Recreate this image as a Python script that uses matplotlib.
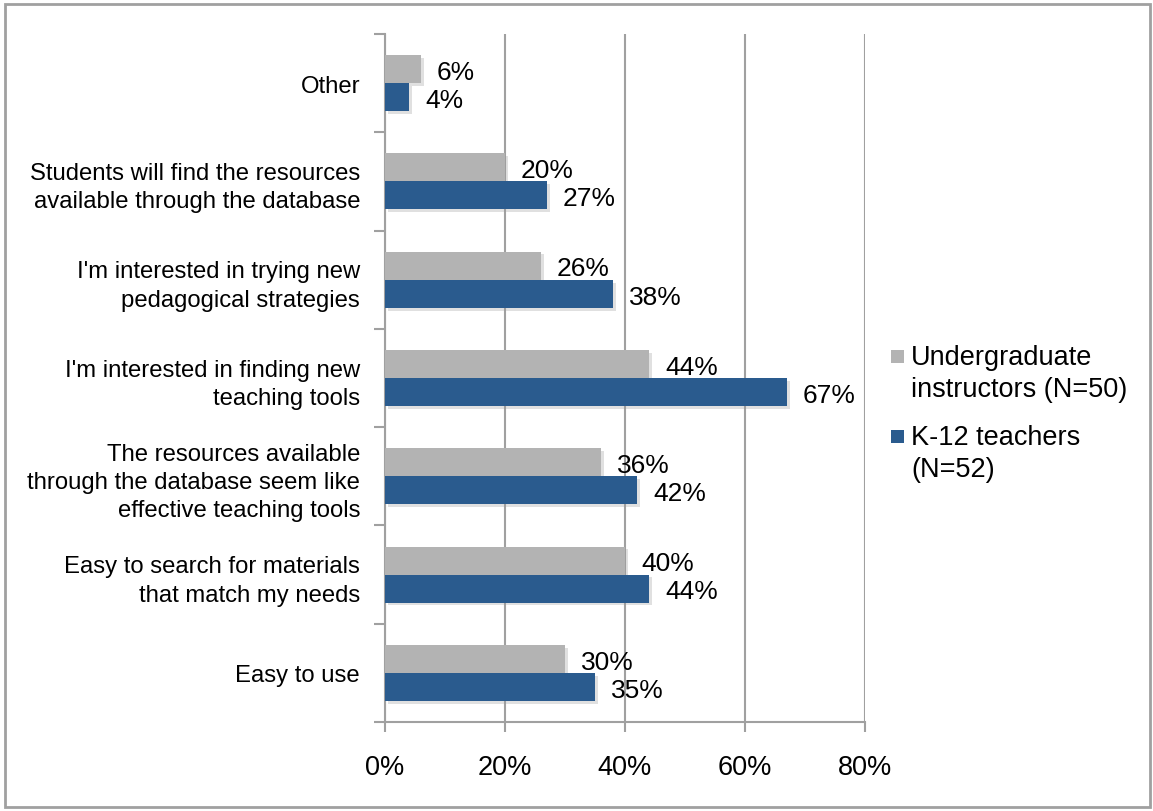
import numpy as np
import matplotlib.pyplot as plt
import matplotlib.patheffects as pe
from matplotlib.patches import Rectangle
from matplotlib.ticker import FuncFormatter

plt.rcParams['font.family'] = ['Liberation Sans', 'DejaVu Sans']

# Reasons for using the database, bottom to top
categories = [
    "Easy to use",
    "Easy to search for materials\nthat match my needs",
    "The resources available\nthrough the database seem like\neffective teaching tools",
    "I'm interested in finding new\nteaching tools",
    "I'm interested in trying new\npedagogical strategies",
    "Students will find the resources\navailable through the database",
    "Other",
]
undergrad = [30, 40, 36, 44, 26, 20, 6]
k12 = [35, 44, 42, 67, 38, 27, 4]
series_names = ["Undergraduate\ninstructors (N=50)", "K-12 teachers\n(N=52)"]
colors = ["#b3b3b3", "#2a5b8e"]

W, H = 1153, 812
fig = plt.figure(figsize=(W / 100, H / 100), dpi=100)
ax = fig.add_axes([385 / W, 1 - 723 / H, 480 / W, 688 / H])

y = np.arange(len(categories))
off = 0.143
bh = 0.285
shadow = [pe.SimplePatchShadow(offset=(2, -2), shadow_rgbFace="#9a9a9a", alpha=0.3), pe.Normal()]

bars_u = ax.barh(y + off, undergrad, height=bh, color=colors[0], zorder=3)
bars_k = ax.barh(y - off, k12, height=bh, color=colors[1], zorder=3)
for b in list(bars_u) + list(bars_k):
    b.set_path_effects(shadow)

for yi, v in zip(y + off, undergrad):
    ax.annotate(f"{v}%", (v, yi), xytext=(11.5, -2), textcoords="offset points",
                va="center", ha="left", fontsize=19, zorder=4)
for yi, v in zip(y - off, k12):
    ax.annotate(f"{v}%", (v, yi), xytext=(11.5, -2), textcoords="offset points",
                va="center", ha="left", fontsize=19, zorder=4)

ax.set_xlim(0, 80)
ax.set_ylim(-0.5, len(categories) - 0.5)
ax.set_xticks(np.arange(0, 81, 20))
ax.xaxis.set_major_formatter(FuncFormatter(lambda v, p: f"{v:.0f}%"))
ax.tick_params(axis="x", length=7, width=1.5, color="#a0a0a0", pad=16, labelsize=19.5)

# category boundaries get the tick marks, centres get the labels
ax.set_yticks(np.arange(-0.5, len(categories), 1.0))
ax.set_yticklabels([])
ax.set_yticks(y, minor=True)
ax.set_yticklabels(categories, minor=True, fontsize=17.2, linespacing=1.38)
ax.tick_params(axis="y", which="major", length=8, width=1.5, color="#a0a0a0", direction="out")
ax.tick_params(axis="y", which="minor", length=0, pad=18)

ax.grid(True, axis="x", color="#a0a0a0", linewidth=1.5, zorder=0)
ax.set_axisbelow(True)
for side in ["top", "right"]:
    ax.spines[side].set_visible(False)
for side in ["left", "bottom"]:
    ax.spines[side].set_color("#a0a0a0")
    ax.spines[side].set_linewidth(1.5)

# legend: square aligned with the first line of each entry
leg_x, leg_top, entry_gap = 891, 345, 80
for i, (name, c) in enumerate(zip(series_names, colors)):
    top = leg_top + i * entry_gap
    fig.patches.append(Rectangle((leg_x / W, 1 - (top + 19) / H), 13 / W, 13 / H,
                                 transform=fig.transFigure, facecolor=c, edgecolor="none"))
    fig.text(911 / W, 1 - top / H, name, ha="left", va="top", fontsize=19.5,
             linespacing=1.3)

# outer frame
fig.patches.append(Rectangle((5 / W, 4 / H), 1145 / W, 803 / H, transform=fig.transFigure,
                             fill=False, edgecolor="#a0a0a0", linewidth=2))

fig.savefig("out.png", dpi=100)
